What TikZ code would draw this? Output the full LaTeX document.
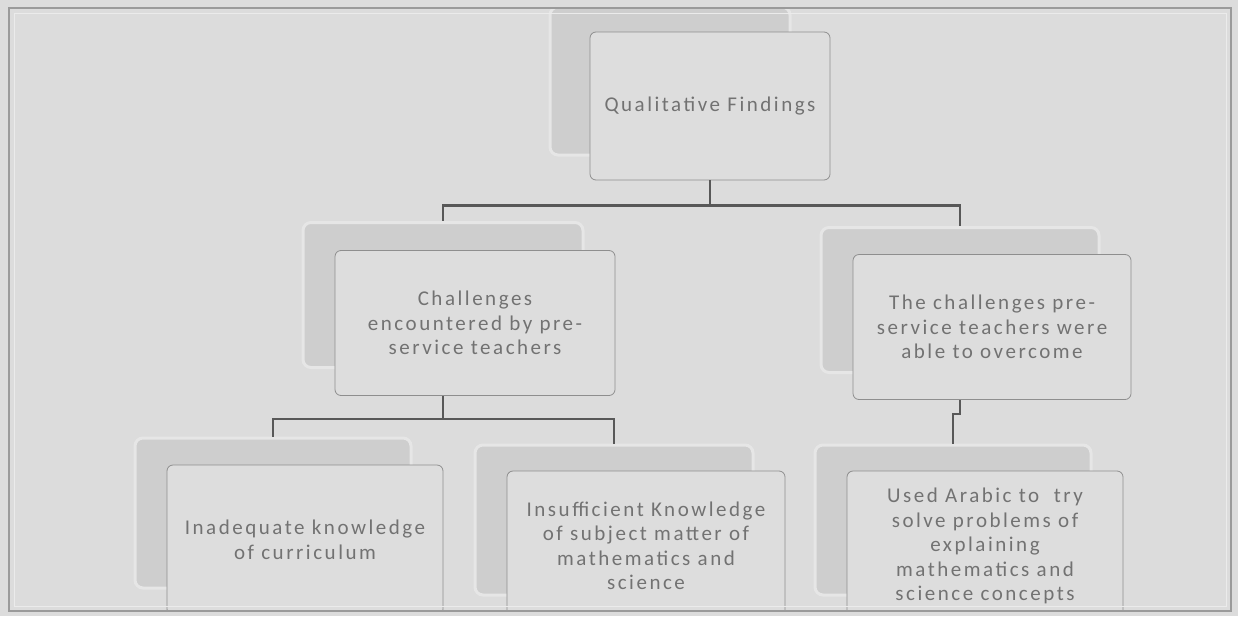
\documentclass[tikz,border=0pt]{standalone}
\usepackage{fontspec}
\setmainfont[LetterSpace=12]{Carlito}

\definecolor{paper}{HTML}{DCDCDC}
\definecolor{boxgray}{HTML}{DDDDDD}
\definecolor{shadegray}{HTML}{CECECE}
\definecolor{rimgray}{HTML}{E6E6E6}
\definecolor{edgegray}{HTML}{8E8E8E}
\definecolor{txtgray}{HTML}{727272}
\definecolor{linkgray}{HTML}{585858}
\definecolor{framegray}{HTML}{9A9A9A}

\begin{document}
\begin{tikzpicture}[
            x=1pt,
            y=-1pt,
            every node/.style={font=\fontsize{21}{24.5}\selectfont, text=txtgray},
            frontbox/.style={draw=edgegray, fill=boxgray, rounded corners=6pt, line width=0.8pt, align=center, inner sep=0pt},
            backbox/.style={draw=rimgray, fill=shadegray, rounded corners=8pt, line width=3pt, inner sep=0pt},
            link/.style={draw=linkgray, line width=2.5pt}
        ]

        \useasboundingbox[fill=paper] (0,0) rectangle (1238,616);

        \begin{scope}
        \clip (9,8) rectangle (1231,611);

        % shadows behind the boxes
        \node[backbox, minimum width=240pt, minimum height=148pt] (qf-b) at (670, 81) {};
        \node[backbox, minimum width=280pt, minimum height=145pt] (chal-b) at (443, 295) {};
        \node[backbox, minimum width=278pt, minimum height=145pt] (over-b) at (960, 300) {};
        \node[backbox, minimum width=276pt, minimum height=150pt] (curr-b) at (273, 513) {};
        \node[backbox, minimum width=278pt, minimum height=150pt] (subj-b) at (614, 520) {};
        \node[backbox, minimum width=276pt, minimum height=150pt] (arab-b) at (953, 520) {};

        % top box
        \node[frontbox, minimum width=240pt, minimum height=148pt] (qf) at (710, 106) {Qualitative Findings};

        % links
        \draw[link] (qf.south) -- ++(0,25) -| (chal-b.north);
        \draw[link] (qf.south) -- ++(0,25) -| (over-b.north);
        \draw[link] (chal-b.south) -- ++(0,50) -| (curr-b.north);
        \draw[link] (chal-b.south) -- ++(0,50) -| (subj-b.north);
        \draw[link] (over-b.south) -- ++(0,40) -| (arab-b.north);

        % boxes
        \node[frontbox, minimum width=280pt, minimum height=145pt] (chal) at (475, 323) {Challenges\\encountered by pre-\\service teachers};
        \node[frontbox, minimum width=278pt, minimum height=145pt] (over) at (992, 327) {The challenges pre-\\service teachers were\\able to overcome};
        \node[frontbox, minimum width=276pt, minimum height=150pt] (curr) at (305, 540) {Inadequate knowledge\\of curriculum};
        \node[frontbox, minimum width=278pt, minimum height=150pt] (subj) at (646, 546) {Insufficient Knowledge\\of subject matter of\\mathematics and\\science};
        \node[frontbox, minimum width=276pt, minimum height=150pt] (arab) at (985, 546) {Used Arabic to\ \ try\\solve problems of\\explaining\\mathematics and\\science concepts};
        \end{scope}

        % frame
        \draw[framegray, line width=1.5pt] (9,8) rectangle (1231,611);
        \draw[white!92!black, line width=1pt] (14,13) rectangle (1226,606);

\end{tikzpicture}
\end{document}
